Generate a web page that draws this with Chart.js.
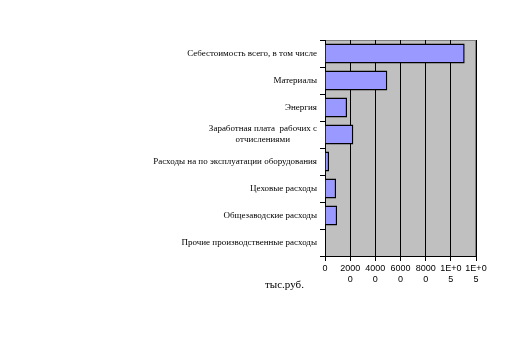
<!DOCTYPE html>
<html>
<head>
<meta charset="utf-8">
<script src="https://cdn.jsdelivr.net/npm/chart.js@4"></script>
<style>
  html, body { margin: 0; padding: 0; background: #fff; }
  #wrap { width: 512px; height: 351px; }
</style>
</head>
<body>
<div id="wrap"><canvas id="myChart" width="512" height="351"></canvas></div>
<script>
// categories (top to bottom)
var categories = [
    "Себестоимость всего, в том числе",
    "Материалы",
    "Энергия",
    ["Заработная плата  рабочих с", "отчислениями            "],
    "Расходы на по эксплуатации оборудования",
    "Цеховые расходы",
    "Общезаводские расходы",
    "Прочие производственные расходы"
];
// тыс.руб.
var values = [111000, 49500, 17500, 22500, 3200, 8800, 9600, 0];
var tickValues = [0, 20000, 40000, 60000, 80000, 100000, 120000];
var tickLabels = ["0", ["2000", "0"], ["4000", "0"], ["6000", "0"], ["8000", "0"], ["1E+0", "5"], ["1E+0", "5"]];
var unitLabel = "тыс.руб.";

var plotBg = {
    id: 'plotBg',
    beforeDraw: function(chart) {
        var a = chart.chartArea, c = chart.ctx;
        c.save();
        c.fillStyle = "#c0c0c0";
        c.fillRect(a.left, a.top, a.right - a.left, a.bottom - a.top);
        c.strokeStyle = "#808080";
        c.lineWidth = 1;
        c.strokeRect(a.left + 0.5, a.top + 0.5, a.right - a.left - 1, a.bottom - a.top);
        c.restore();
    },
    afterDraw: function(chart) {
        var c = chart.ctx;
        c.save();
        c.fillStyle = "#000";
        c.font = "11px 'Liberation Serif'";
        c.textBaseline = "middle";
        c.fillText(unitLabel, 265, 285);
        c.restore();
    }
};

var ctx = document.getElementById("myChart").getContext("2d");
var myChart = new Chart(ctx, {
    type: 'bar',
    data: {
        labels: categories,
        datasets: [{
            data: values,
            backgroundColor: "#9999ff",
            borderColor: "#000000",
            borderWidth: 1.5,
            barPercentage: 0.74,
            categoryPercentage: 1
        }]
    },
    options: {
        indexAxis: 'y',
        responsive: false,
        animation: false,
        layout: { padding: { left: 0, right: 36, top: 40, bottom: 55 } },
        plugins: { legend: { display: false }, tooltip: { enabled: false } },
        scales: {
            x: {
                min: 0,
                max: 120000,
                afterBuildTicks: function(scale) {
                    scale.ticks = tickValues.map(function(v) { return { value: v }; });
                },
                afterFit: function(scale) { scale.height = 40; },
                ticks: {
                    color: "#000",
                    font: { family: "'Liberation Sans'", size: 9 },
                    padding: 2,
                    maxRotation: 0,
                    autoSkip: false,
                    callback: function(v, i) { return tickLabels[i]; }
                },
                grid: { color: "#000", lineWidth: 1, tickLength: 5, drawOnChartArea: true },
                border: { color: "#000", width: 1 }
            },
            y: {
                afterFit: function(scale) { scale.width = 325; },
                ticks: {
                    color: "#000",
                    font: { family: "'Liberation Serif'", size: 9 },
                    padding: 3,
                    autoSkip: false
                },
                grid: { offset: true, drawOnChartArea: false, color: "#000", tickLength: 5 },
                border: { color: "#000", width: 1 }
            }
        }
    },
    plugins: [plotBg]
});
</script>
</body>
</html>
